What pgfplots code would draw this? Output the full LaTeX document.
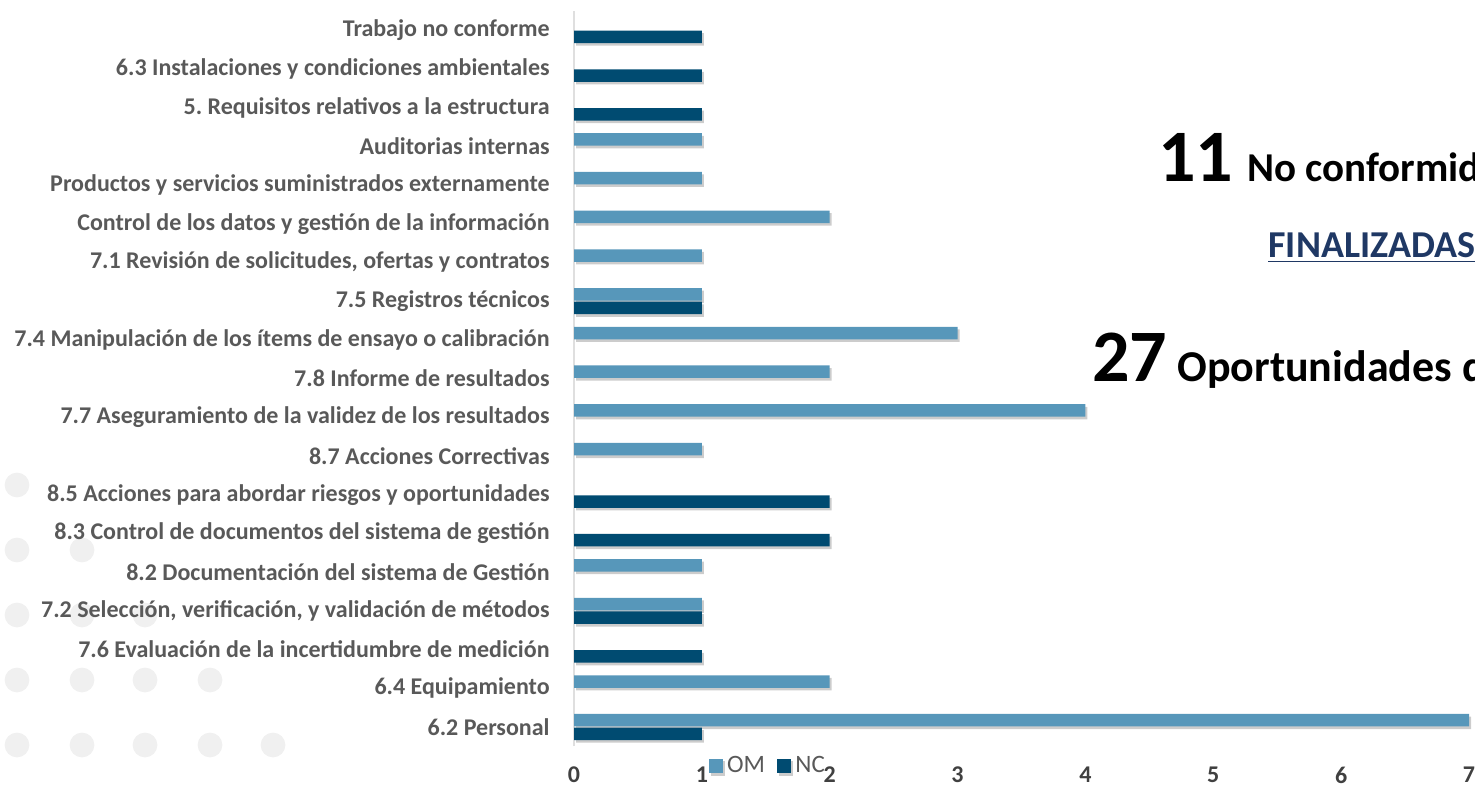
\documentclass[border=0pt]{standalone}
\usepackage{pgfplots}
\pgfplotsset{compat=1.18}
\usepackage{fontspec}
\setmainfont{Carlito}
\definecolor{om}{HTML}{5797BA}
\definecolor{nc}{HTML}{004B71}
\definecolor{lbl}{HTML}{595959}
\definecolor{tck}{HTML}{404040}
\definecolor{navy}{HTML}{1F3864}
\definecolor{dot}{HTML}{F0F0F0}
\frenchspacing
\begin{document}
\begin{tikzpicture}
\path[use as bounding box] (0,0) rectangle (737.5pt,393.5pt);
% decorative dots (pixel centres -> pt)
\foreach \px/\py in {17/485,17/550,82/550,17/615,82/615,145/615,17/680,82/680,145/680,210/680,17/745,82/745,145/745,210/745,273/745}{
  \fill[dot] ({\px*0.5pt},{(787-\py)*0.5pt}) circle (6.2pt);
}
\begin{axis}[
  at={(287pt,20.3pt)}, anchor=south west,
  scale only axis, width=447.5pt, height=367.85pt,
  xmin=0, xmax=7, ymin=-0.5, ymax=18.5,
  xtick={0,...,7},
  ytick={0,...,18},
  yticklabels={6.2 Personal,6.4 Equipamiento,7.6 Evaluación de la incertidumbre de medición,{7.2 Selección, verificación, y validación de métodos},8.2 Documentación del sistema de Gestión,8.3 Control de documentos del sistema de gestión,8.5 Acciones para abordar riesgos y oportunidades,8.7 Acciones Correctivas,7.7 Aseguramiento de la validez de los resultados,7.8 Informe de resultados,7.4 Manipulación de los ítems de ensayo o calibración,7.5 Registros técnicos,{7.1 Revisión de solicitudes, ofertas y contratos},Control de los datos y gestión de la información,Productos y servicios suministrados externamente,Auditorias internas,5. Requisitos relativos a la estructura,6.3 Instalaciones y condiciones ambientales,Trabajo no conforme},
  major tick length=0pt,
  axis line style={draw=none},
  /pgf/number format/assume math mode=true,
  yticklabel style={anchor=east, inner sep=0pt, xshift=-12pt, font=\fontsize{12}{12}\selectfont\bfseries, text=lbl},
  xticklabel style={anchor=north, inner sep=0pt, yshift=-10pt, font=\fontsize{12}{12}\selectfont\bfseries, text=tck},
  xbar, bar width=6.25pt,
  legend style={at={(0.150,-0.0266)}, anchor=west, draw=none, fill=none, legend columns=2,
     font=\fontsize{12.5}{12.5}\selectfont, text=lbl, inner sep=0pt,
     /tikz/every even column/.append style={column sep=4pt}},
  legend image code/.code={\fill[#1] (0pt,-3.6pt) rectangle (7.2pt,3.6pt);},
  clip=false,
]
\draw[gray!25, line width=0.9pt] (axis cs:0,-0.5) -- (axis cs:0,18.5);
\addplot[fill=om, draw=none, bar shift=3.4pt,
  preaction={fill=black, opacity=0.2, transform canvas={xshift=1pt,yshift=-1.3pt}}]
  coordinates {(7,0) (2,1) (1,3) (1,4) (1,7) (4,8) (2,9) (3,10) (1,11) (1,12) (2,13) (1,14) (1,15)};
\addplot[fill=nc, draw=none, bar shift=-3.4pt,
  preaction={fill=black, opacity=0.2, transform canvas={xshift=1pt,yshift=-1.3pt}}]
  coordinates {(1,0) (1,2) (1,3) (2,5) (2,6) (1,11) (1,16) (1,17) (1,18)};
\legend{OM,NC}
\end{axis}
\node[anchor=base west, inner sep=0pt] at (579pt,302.5pt) {\fontsize{37}{37}\selectfont\bfseries 11};
\node[anchor=base west, inner sep=0pt] at (623.5pt,302.5pt) {\fontsize{20.5}{20.5}\selectfont\bfseries No conformidades};
\node[anchor=base west, inner sep=0pt, text=navy] at (634pt,264.5pt) {\fontsize{19}{19}\selectfont\bfseries\underline{FINALIZADAS}};
\node[anchor=base west, inner sep=0pt] at (546pt,202.5pt) {\fontsize{37}{37}\selectfont\bfseries 27};
\node[anchor=base west, inner sep=0pt] at (588.5pt,202.5pt) {\fontsize{22}{22}\selectfont\bfseries Oportunidades de mejora};
\end{tikzpicture}
\end{document}
